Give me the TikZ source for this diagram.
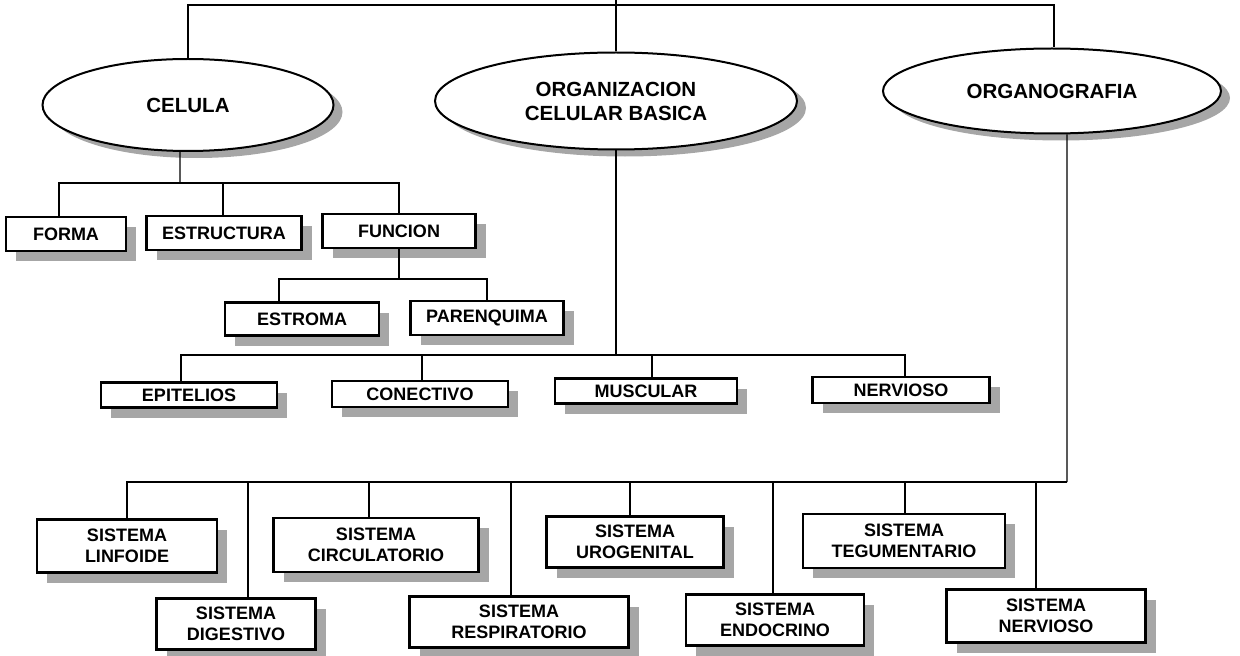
\documentclass[tikz,border=0pt]{standalone}
\usepackage{fontspec}
\setmainfont{Liberation Sans}
\usetikzlibrary{shapes.geometric,shadows}

\begin{document}
\begin{tikzpicture}[
    x=1bp, y=-1bp,
    line width=1.3bp,
    tema/.style={
        ellipse,
        draw,
        line width=2bp,
        fill=white,
        inner sep=0pt,
        align=center,
        font=\bfseries\fontsize{20.5bp}{24bp}\selectfont,
        drop shadow={shadow xshift=9bp, shadow yshift=-7bp, fill=gray!70, opacity=1}
    },
    caja/.style={
        draw,
        line width=2.2bp,
        fill=white,
        inner sep=0pt,
        align=center,
        font=\bfseries\fontsize{18bp}{21.5bp}\selectfont,
        drop shadow={shadow xshift=10bp, shadow yshift=-10bp, fill=gray!70, opacity=1}
    }
]

\useasboundingbox (0,0) rectangle (1240,656);

% --------------------------------------------------
% Main topics
% --------------------------------------------------

\node[tema, minimum width=291bp, minimum height=92bp] (celula) at (188,105)
    {CELULA};

\node[tema, minimum width=362bp, minimum height=97bp] (organizacion) at (616,101)
    {ORGANIZACION\\CELULAR BASICA};

\node[tema, minimum width=338bp, minimum height=85bp] (organografia) at (1052,91)
    {ORGANOGRAFIA};

% --------------------------------------------------
% Celula
% --------------------------------------------------

\node[caja, minimum width=120bp, minimum height=34bp] (forma) at (66,234)
    {FORMA};

\node[caja, minimum width=155bp, minimum height=34bp] (estructura) at (224,233)
    {ESTRUCTURA};

\node[caja, minimum width=153bp, minimum height=34bp] (funcion) at (399,231)
    {FUNCION};

\node[caja, minimum width=154bp, minimum height=33bp] (estroma) at (302,319)
    {ESTROMA};

\node[caja, minimum width=153bp, minimum height=34bp] (parenquima) at (487,318)
    {PARENQUIMA};

% --------------------------------------------------
% Organizacion celular basica
% --------------------------------------------------

\node[caja, minimum width=176bp, minimum height=25bp] (epitelios) at (189,395)
    {EPITELIOS};

\node[caja, minimum width=176bp, minimum height=26bp] (conectivo) at (420,394)
    {CONECTIVO};

\node[caja, minimum width=182bp, minimum height=25bp] (muscular) at (646,391)
    {MUSCULAR};

\node[caja, minimum width=177bp, minimum height=26bp] (nervioso) at (901,390)
    {NERVIOSO};

% --------------------------------------------------
% Organografia
% --------------------------------------------------

\node[caja, minimum width=180bp, minimum height=53bp] (linfoide) at (127,546)
    {SISTEMA\\LINFOIDE};

\node[caja, minimum width=205bp, minimum height=54bp] (circulatorio) at (376,545)
    {SISTEMA\\CIRCULATORIO};

\node[caja, minimum width=177bp, minimum height=51bp] (urogenital) at (635,542)
    {SISTEMA\\UROGENITAL};

\node[caja, minimum width=202bp, minimum height=54bp] (tegumentario) at (904,541)
    {SISTEMA\\TEGUMENTARIO};

\node[caja, minimum width=159bp, minimum height=51bp] (digestivo) at (236,624)
    {SISTEMA\\DIGESTIVO};

\node[caja, minimum width=219bp, minimum height=51bp] (respiratorio) at (519,622)
    {SISTEMA\\RESPIRATORIO};

\node[caja, minimum width=178bp, minimum height=51bp] (endocrino) at (775,620)
    {SISTEMA\\ENDOCRINO};

\node[caja, minimum width=199bp, minimum height=53bp] (snervioso) at (1046,616)
    {SISTEMA\\NERVIOSO};

% --------------------------------------------------
% Connectors
% --------------------------------------------------

\coordinate (raiz) at (616,0);
\coordinate (barra) at (616,5);

\draw (raiz) -- (organizacion.north);
\draw (celula.north) |- (barra) -| ([xshift=2bp]organografia.north);

\coordinate (jcel) at (180,183);
\draw ([xshift=-8bp]celula.south) -- (jcel);
\foreach \n/\s in {forma/-7bp, estructura/-1bp, funcion/0bp}
{
    \draw ([xshift=\s]\n.north) |- (jcel);
}

\coordinate (jfun) at (399,279);
\draw (funcion.south) -- (jfun);
\foreach \n/\s in {estroma/-23bp, parenquima/0bp}
{
    \draw ([xshift=\s]\n.north) |- (jfun);
}

\coordinate (jorg) at (616,355);
\draw (organizacion.south) -- (jorg);
\foreach \n/\s in {epitelios/-8bp, conectivo/2bp, muscular/6bp, nervioso/4bp}
{
    \draw ([xshift=\s]\n.north) |- (jorg);
}

\coordinate (jogr) at (1067,482);
\draw ([xshift=15bp]organografia.south) -- (jogr);
\foreach \n/\s in {linfoide/0bp, digestivo/12bp, circulatorio/-7bp, respiratorio/-8bp,
                   urogenital/-5bp, endocrino/-2bp, tegumentario/1bp, snervioso/-10bp}
{
    \draw ([xshift=\s]\n.north) |- (jogr);
}

\end{tikzpicture}
\end{document}
